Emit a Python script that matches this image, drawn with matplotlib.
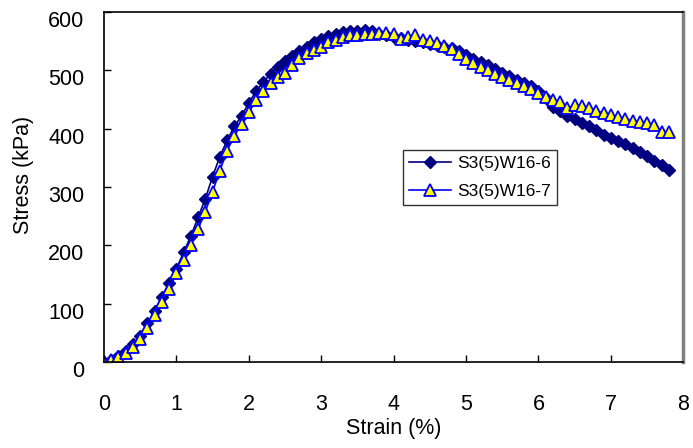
import matplotlib
matplotlib.use("Agg")
import matplotlib.pyplot as plt
import matplotlib.transforms as mtransforms

plt.rcParams['font.family'] = ['Liberation Sans', 'DejaVu Sans']

# strain (%) shared by both specimens
strain = [0.0, 0.1, 0.2, 0.3, 0.4, 0.5, 0.6, 0.7, 0.8, 0.9,
          1.0, 1.1, 1.2, 1.3, 1.4, 1.5, 1.6, 1.7, 1.8, 1.9,
          2.0, 2.1, 2.2, 2.3, 2.4, 2.5, 2.6, 2.7, 2.8, 2.9,
          3.0, 3.1, 3.2, 3.3, 3.4, 3.5, 3.6, 3.7, 3.8, 3.9,
          4.0, 4.1, 4.2, 4.3, 4.4, 4.5, 4.6, 4.7, 4.8, 4.9,
          5.0, 5.1, 5.2, 5.3, 5.4, 5.5, 5.6, 5.7, 5.8, 5.9,
          6.0, 6.1, 6.2, 6.3, 6.4, 6.5, 6.6, 6.7, 6.8, 6.9,
          7.0, 7.1, 7.2, 7.3, 7.4, 7.5, 7.6, 7.7, 7.8]

# S3(5)W16-6 stress (kPa)
stress_6 = [0, 4, 10, 18, 30, 45, 66, 88, 112, 136,
            160, 188, 216, 248, 280, 318, 352, 380, 404, 422,
            444, 464, 480, 494, 506, 516, 525, 534, 541, 548,
            554, 559, 563, 566, 567, 568, 569, 567, 563, 560,
            557, 555, 553, 551, 548, 545, 543, 541, 538, 533,
            526, 519, 514, 510, 503, 496, 490, 484, 478, 474,
            465, 452, 438, 430, 422, 416, 410, 404, 398, 390,
            384, 379, 374, 367, 360, 353, 345, 337, 329]

# S3(5)W16-7 stress (kPa)
stress_7 = [0, 3, 8, 15, 26, 39, 58, 80, 103, 125,
            152, 175, 200, 228, 258, 292, 328, 362, 388, 408,
            428, 449, 464, 479, 488, 496, 509, 521, 530, 535,
            540, 548, 553, 557, 560, 561, 562, 563, 564, 565,
            562, 554, 558, 560, 553, 550, 547, 542, 537, 528,
            520, 513, 506, 500, 494, 489, 484, 479, 474, 468,
            461, 455, 449, 445, 436, 440, 439, 436, 431, 427,
            424, 420, 417, 414, 412, 410, 407, 395, 394]

labels = ['S3(5)W16-6', 'S3(5)W16-7']

fig = plt.figure(figsize=(6.93, 4.48), dpi=100)
ax = fig.add_axes([0.150, 0.192, 0.836, 0.781])

ax.plot(strain, stress_6, color='#000080', lw=1.2, marker='D', ms=6.5,
        mfc='#000080', mec='#000080', label=labels[0])
ax.plot(strain, stress_7, color='#0000ff', lw=1.2, marker='^', ms=8,
        mfc='#ffff00', mec='#0000ff', mew=1.3, label=labels[1])

ax.set_xlim(0, 8)
ax.set_ylim(0, 600)
ax.set_xticks(range(0, 9))
ax.set_yticks(range(0, 601, 100))
ax.tick_params(direction='in', length=5, labelsize=15.5, width=1)
ax.tick_params(axis='x', pad=23)
ax.tick_params(axis='y', pad=14)

# excel-style: y tick labels sit a bit below their ticks
off = mtransforms.ScaledTranslation(0, -5 / 72, fig.dpi_scale_trans)
for t in ax.get_yticklabels():
    t.set_transform(t.get_transform() + off)

for s in ['left', 'top', 'bottom']:
    ax.spines[s].set_color('black')
    ax.spines[s].set_linewidth(1.2)
ax.spines['right'].set_color('#808080')
ax.spines['right'].set_linewidth(2.5)

ax.set_xlabel('Strain (%)', fontsize=15.5)
ax.set_ylabel('Stress (kPa)', fontsize=15.5)
ax.xaxis.set_label_coords(0.5, -0.16)
ax.yaxis.set_label_coords(-0.12, 0.535)

leg = ax.legend(loc='upper left', bbox_to_anchor=(0.516, 0.606), fontsize=12.5,
                frameon=True, fancybox=False, borderpad=0.35, handlelength=2.4,
                handletextpad=0.4, labelspacing=0.75, borderaxespad=0)
leg.get_frame().set_edgecolor('black')
leg.get_frame().set_linewidth(1.0)

fig.savefig('out.png', dpi=100)
